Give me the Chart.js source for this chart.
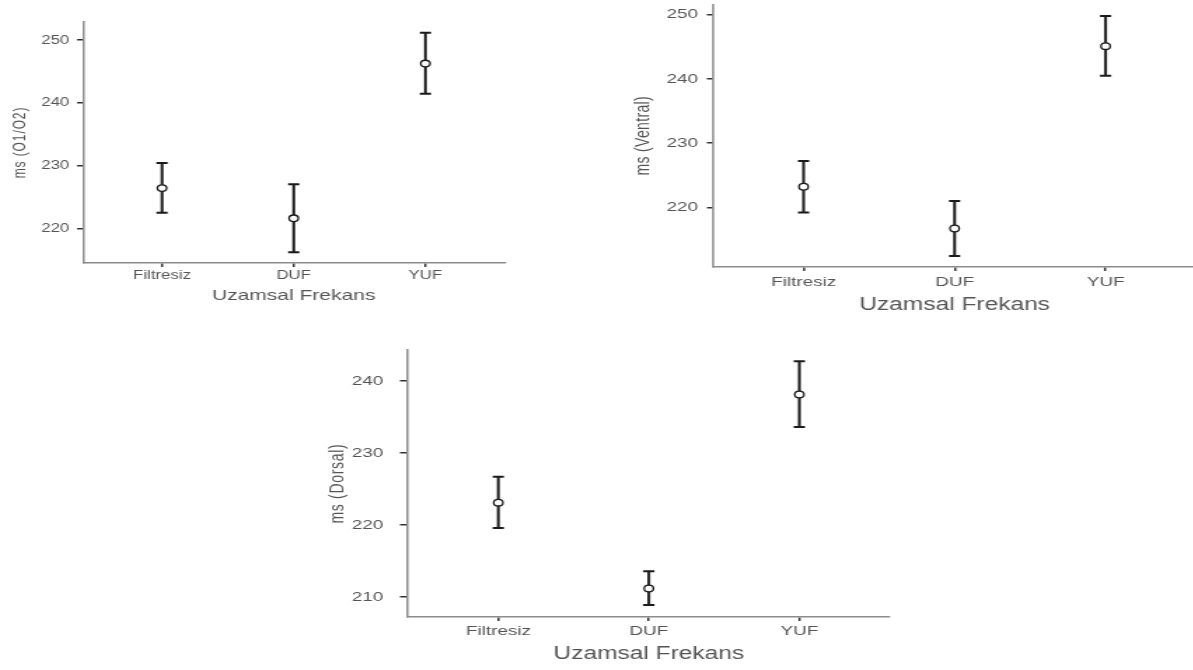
<!DOCTYPE html>
<html>
<head>
<meta charset="utf-8">
<script src="https://cdn.jsdelivr.net/npm/chart.js@4.4.1/dist/chart.umd.min.js"></script>
<style>
html, body { margin: 0; padding: 0; background: #fff; overflow: hidden; width: 1193px; height: 670px; }
.panel { position: absolute; transform-origin: 0 0; }
</style>
</head>
<body>
<div class="panel" id="p1"><canvas id="c1"></canvas></div>
<div class="panel" id="p2"><canvas id="c2"></canvas></div>
<div class="panel" id="p3"><canvas id="c3"></canvas></div>
<script>
var CATEGORIES = ['Filtresiz', 'DUF', 'YUF'];

var O1O2_MEAN = [226.5, 221.7, 246.3];
var O1O2_LOW = [222.6, 216.3, 241.5];
var O1O2_HIGH = [230.5, 227.1, 251.2];
var O1O2_TICKS = [220, 230, 240, 250];

var VENTRAL_MEAN = [223.2, 216.7, 245.1];
var VENTRAL_LOW = [219.2, 212.4, 240.5];
var VENTRAL_HIGH = [227.2, 221.0, 249.8];
var VENTRAL_TICKS = [220, 230, 240, 250];

var DORSAL_MEAN = [223.1, 211.2, 238.1];
var DORSAL_LOW = [219.6, 208.9, 233.6];
var DORSAL_HIGH = [226.7, 213.6, 242.7];
var DORSAL_TICKS = [210, 220, 230, 240];

// the reference is stretched sideways, so every panel is drawn narrow and scaled in x
var SX = 1.4;
var TEXT = '#555555';
var INK = '#1a1a1a';

Chart.defaults.font.family = "'Liberation Sans', Arial, sans-serif";

var errorBars = {
  id: 'errorBars',
  beforeDatasetsDraw: function(chart) {
    var ctx = chart.ctx;
    var xs = chart.scales.x, ys = chart.scales.y;
    var ds = chart.data.datasets[0];
    ctx.save();
    ctx.strokeStyle = INK;
    ctx.lineCap = 'butt';
    ctx.lineWidth = 2;
    ds.data.forEach(function(p, i) {
      var px = xs.getPixelForValue(p.x);
      var top = ys.getPixelForValue(ds.high[i]);
      var bot = ys.getPixelForValue(ds.low[i]);
      ctx.beginPath();
      ctx.moveTo(px, top);
      ctx.lineTo(px, bot);
      ctx.moveTo(px - 4, top);
      ctx.lineTo(px + 4, top);
      ctx.moveTo(px - 4, bot);
      ctx.lineTo(px + 4, bot);
      ctx.stroke();
    });
    ctx.restore();
  }
};

// only the y title is letter spaced (it looks condensed once the panel is stretched)
var titleSpacing = {
  id: 'titleSpacing',
  beforeDraw: function(chart, args, opts) {
    var s = chart.scales.y;
    if (s._spaced) return;
    var orig = s.drawTitle;
    s.drawTitle = function() {
      var prev = this.ctx.letterSpacing;
      this.ctx.letterSpacing = (opts.spacing || 0) + 'px';
      orig.apply(this, arguments);
      this.ctx.letterSpacing = prev;
    };
    s._spaced = true;
  }
};

function makeChart(id, panelId, L, yLabel, means, lows, highs, yTicks) {
  var panel = document.getElementById(panelId);
  panel.style.left = L.left + 'px';
  panel.style.top = L.top + 'px';
  panel.style.transform = 'scaleX(' + SX + ')';
  var canvas = document.getElementById(id);
  canvas.width = Math.round(L.w / SX);
  canvas.height = L.h;

  var yWidth = (L.areaLeft - L.left) / SX;
  var xHeight = L.top + L.h - L.areaBottom;
  var padRight = (L.left + L.w - L.areaRight) / SX;

  var points = means.map(function(m, i) { return { x: i, y: m }; });

  return new Chart(canvas, {
    type: 'scatter',
    data: {
      datasets: [{
        data: points,
        low: lows,
        high: highs,
        pointRadius: 3.3,
        pointHoverRadius: 3.3,
        pointBackgroundColor: '#ffffff',
        pointBorderColor: INK,
        pointBorderWidth: 1.3
      }]
    },
    options: {
      responsive: false,
      animation: false,
      events: [],
      layout: { padding: { top: L.areaTop - L.top, right: padRight, left: 0, bottom: 0 } },
      plugins: {
        legend: { display: false },
        tooltip: { enabled: false },
        titleSpacing: { spacing: L.ySpacing }
      },
      scales: {
        x: {
          type: 'linear',
          position: 'bottom',
          min: -0.6,
          max: 2.6,
          afterBuildTicks: function(s) {
            s.ticks = CATEGORIES.map(function(c, i) { return { value: i }; });
          },
          afterFit: function(s) { s.height = xHeight; },
          grid: { drawOnChartArea: false, drawTicks: true, tickLength: 4, color: '#333333', lineWidth: 1.5 },
          border: { display: true, color: '#8c8c8c', width: 1.5 },
          ticks: {
            padding: L.xTickPad,
            maxRotation: 0,
            autoSkip: false,
            color: TEXT,
            font: { size: L.tickFont },
            callback: function(v) { return CATEGORIES[v]; }
          },
          title: {
            display: true,
            text: 'Uzamsal Frekans',
            color: TEXT,
            font: { size: L.titleFont },
            padding: L.xTitlePad
          }
        },
        y: {
          position: 'left',
          min: L.yMin,
          max: L.yMax,
          afterBuildTicks: function(s) {
            s.ticks = yTicks.map(function(v) { return { value: v }; });
          },
          afterFit: function(s) { s.width = yWidth; },
          grid: { drawOnChartArea: false, drawTicks: true, tickLength: L.yTickLen, color: '#333333', lineWidth: 1.5 },
          border: { display: true, color: '#8c8c8c', width: 1.5 },
          ticks: {
            padding: L.yTickPad,
            color: TEXT,
            font: { size: L.tickFont }
          },
          title: {
            display: true,
            text: yLabel,
            color: TEXT,
            font: { size: L.yTitleFont },
            padding: L.yTitlePad
          }
        }
      }
    },
    plugins: [errorBars, titleSpacing]
  });
}

var layout1 = { left: 0, top: 0, w: 520, h: 310, areaLeft: 83, areaRight: 505, areaTop: 22, areaBottom: 263,
  yMin: 214.6, yMax: 252.9, tickFont: 12, titleFont: 15, yTitleFont: 12, ySpacing: 0.9,
  yTitlePad: 7.8, yTickPad: 5.5, yTickLen: 4.3, xTickPad: 1.8, xTitlePad: 5 };
var layout2 = { left: 600, top: -10, w: 620, h: 330, areaLeft: 713, areaRight: 1196, areaTop: 4, areaBottom: 267,
  yMin: 210.7, yMax: 251.6, tickFont: 13.5, titleFont: 17.5, yTitleFont: 14, ySpacing: 0.35,
  yTitlePad: 23, yTickPad: 6.4, yTickLen: 4.3, xTickPad: 2.9, xTitlePad: 4.5 };
var layout3 = { left: 300, top: 330, w: 600, h: 340, areaLeft: 408, areaRight: 889, areaTop: 347, areaBottom: 617,
  yMin: 207.25, yMax: 244.26, tickFont: 13.5, titleFont: 17.5, yTitleFont: 14, ySpacing: 0.7,
  yTitlePad: 18.5, yTickPad: 12, yTickLen: 5.7, xTickPad: 2.6, xTitlePad: 5.5 };

makeChart('c1', 'p1', layout1, 'ms (O1/O2)', O1O2_MEAN, O1O2_LOW, O1O2_HIGH, O1O2_TICKS);
makeChart('c2', 'p2', layout2, 'ms (Ventral)', VENTRAL_MEAN, VENTRAL_LOW, VENTRAL_HIGH, VENTRAL_TICKS);
makeChart('c3', 'p3', layout3, 'ms (Dorsal)', DORSAL_MEAN, DORSAL_LOW, DORSAL_HIGH, DORSAL_TICKS);
</script>
</body>
</html>
